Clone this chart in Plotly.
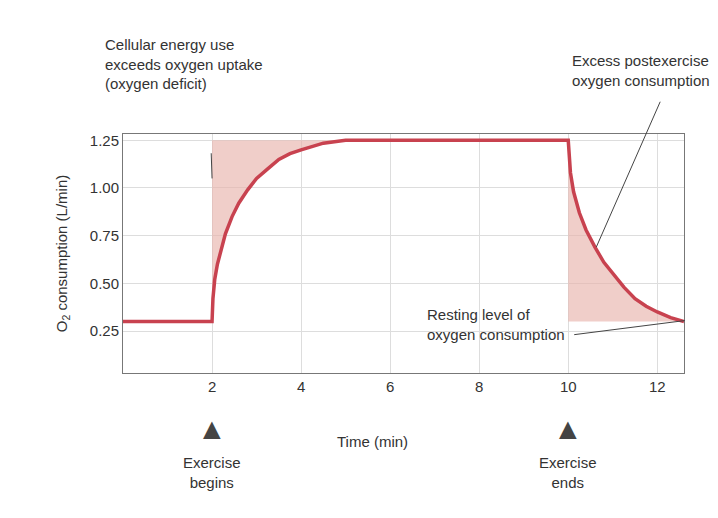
import plotly.graph_objects as go

# O2 consumption curve
time_min = [0, 2, 2.02, 2.06, 2.12, 2.2, 2.3, 2.45, 2.6, 2.8, 3.0, 3.25, 3.5, 3.75, 4, 4.5, 5, 10,
            10.01, 10.05, 10.12, 10.25, 10.4, 10.6, 10.8, 11, 11.25, 11.5, 11.75, 12, 12.3, 12.6]
o2_lmin = [0.3, 0.3, 0.42, 0.52, 0.6, 0.68, 0.76, 0.85, 0.92, 0.99, 1.05, 1.1, 1.15, 1.18, 1.2, 1.235, 1.25, 1.25,
           1.2, 1.08, 0.98, 0.87, 0.78, 0.69, 0.61, 0.55, 0.48, 0.42, 0.38, 0.35, 0.32, 0.30]
rest_level = 0.3
work_level = 1.25

x_ticks = [2, 4, 6, 8, 10, 12]
y_ticks = [0.25, 0.5, 0.75, 1.0, 1.25]

red = "#c8424f"
shade = "rgba(232,180,172,0.65)"

rise = [(t, v) for t, v in zip(time_min, o2_lmin) if 2 <= t <= 5]
fall = [(t, v) for t, v in zip(time_min, o2_lmin) if t >= 10]

fig = go.Figure()
# oxygen deficit: between work level and curve
fig.add_trace(go.Scatter(x=[t for t, _ in rise], y=[work_level] * len(rise),
                         mode="lines", line=dict(width=0), hoverinfo="skip"))
fig.add_trace(go.Scatter(x=[t for t, _ in rise], y=[v for _, v in rise],
                         mode="lines", line=dict(width=0), fill="tonexty",
                         fillcolor=shade, hoverinfo="skip"))
# EPOC: between curve and resting level
fig.add_trace(go.Scatter(x=[t for t, _ in fall], y=[rest_level] * len(fall),
                         mode="lines", line=dict(width=0), hoverinfo="skip"))
fig.add_trace(go.Scatter(x=[t for t, _ in fall], y=[v for _, v in fall],
                         mode="lines", line=dict(width=0), fill="tonexty",
                         fillcolor=shade, hoverinfo="skip"))
fig.add_trace(go.Scatter(x=time_min, y=o2_lmin, mode="lines",
                         line=dict(color=red, width=3.5)))

txt = dict(family="Liberation Sans, Arial", size=15, color="#333")
fig.update_layout(
    width=718, height=518, showlegend=False,
    paper_bgcolor="white", plot_bgcolor="white",
    margin=dict(l=115, r=42, t=126, b=153),
    font=txt,
    xaxis=dict(range=[0, 12.6], tickvals=x_ticks, showgrid=True, gridcolor="#ddd",
               showline=True, linecolor="#777", mirror=True, ticks="", zeroline=False,
               tickfont=dict(size=15), title=dict(text="")),
    yaxis=dict(range=[0.03, 1.283], tickvals=y_ticks, tickformat=".2f",
               showgrid=True, gridcolor="#ddd", showline=True, linecolor="#777",
               mirror=True, ticks="", zeroline=False, tickfont=dict(size=15),
               title=dict(text="O<sub>2</sub> consumption (L/min)", standoff=18,
                          font=dict(size=15))),
)

for a in [
    dict(x=2, y=-0.31, text="▲", font=dict(size=30, color="#444")),
    dict(x=10, y=-0.31, text="▲", font=dict(size=30, color="#444")),
    dict(x=2, y=-0.5, text="Exercise<br>begins"),
    dict(x=10, y=-0.5, text="Exercise<br>ends"),
    dict(x=5.6, y=-0.33, text="Time (min)"),
]:
    a.update(xref="x", yref="paper", showarrow=False)
    fig.add_annotation(**a)

def pointer(x, y, tx, ty):
    fig.add_annotation(x=x, y=y, ax=tx, ay=ty, axref="x", ayref="y",
                       xref="x", yref="y", text="", showarrow=True, arrowhead=0,
                       arrowcolor="#444", arrowwidth=1)

pointer(2.0, 1.05, 1.98, 1.19)
pointer(10.63, 0.69, 12.08, 1.46)
pointer(12.62, 0.305, 10.1, 0.23)

fig.add_annotation(xref="paper", yref="paper", x=-0.035, y=1.42, xanchor="left",
                   yanchor="top", align="left", showarrow=False,
                   text="Cellular energy use<br>exceeds oxygen uptake<br>(oxygen deficit)")
fig.add_annotation(xref="paper", yref="paper", x=1.05, y=1.35, xanchor="right",
                   yanchor="top", align="left", showarrow=False,
                   text="Excess postexercise<br>oxygen consumption")
fig.add_annotation(x=9.97, y=0.285, xref="x", yref="y", xanchor="right",
                   yanchor="middle", align="left", showarrow=False,
                   text="Resting level of<br>oxygen consumption")

fig.write_html("out.html")
